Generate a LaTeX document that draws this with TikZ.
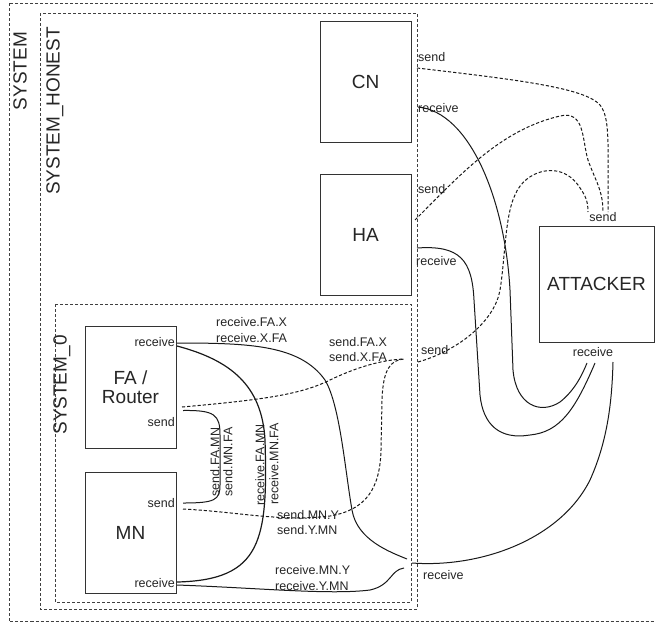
\documentclass[tikz,border=0pt]{standalone}
\usepackage{fontspec}
\setmainfont{Liberation Sans}
\begin{document}
\begin{tikzpicture}[x=1pt,y=-1pt,
  comp/.style={draw=black!80, line width=0.9pt, inner sep=0pt, align=center, text=black!85, font=\fontsize{19}{19.5}\selectfont},
  sysbox/.style={draw=black!75, line width=0.9pt, dash pattern=on 3pt off 2pt},
  biglbl/.style={font=\fontsize{19}{21}\selectfont, text=black!85, inner sep=0pt},
  lbl/.style={font=\fontsize{12.5}{14}\selectfont, text=black!85, inner sep=0pt},
  sig/.style={draw=black!90, line width=1pt},
  dsig/.style={sig, dash pattern=on 3.2pt off 2pt},
]
\useasboundingbox (0,0) rectangle (655,624);
\fill[white] (0,0) rectangle (655,624);

% containers
\draw[sysbox] (9,3) rectangle (665,621.5);
\draw[sysbox] (40,13) rectangle (417,609);
\draw[sysbox] (55,304) rectangle (411,602);
\node[biglbl, rotate=90] (lsys) at (20,71) {SYSTEM};
\node[biglbl, rotate=90] (lhon) at (55,111) {SYSTEM\_HONEST};
\node[biglbl, rotate=90] (lsys0) at (62,385) {SYSTEM\_0};

% components
\node[comp, minimum width=91pt, minimum height=121pt] (CN) at (365.5,82) {CN};
\node[comp, minimum width=91pt, minimum height=121pt] (HA) at (365.5,234.5) {HA};
\node[comp, minimum width=115pt, minimum height=116pt] (ATT) at (596.5,284) {ATTACKER};
\node[comp, minimum width=91pt, minimum height=122pt] (FA) at (130.5,387) {FA /\\Router};
\node[comp, minimum width=91pt, minimum height=121pt] (MN) at (130.5,532.5) {MN};

% ports and junctions
\coordinate (cnS) at (417,68);
\coordinate (cnR) at (418,107);
\coordinate (haS) at (415,220);
\coordinate (haR) at (417,248);
\coordinate (atS1) at (608,212);
\coordinate (atS2) at (603,212);
\coordinate (atS3) at (588,212);
\coordinate (atR1) at (587,363);
\coordinate (atR2) at (595,363);
\coordinate (atR3) at (613,362);
\coordinate (faR) at (177,343);
\coordinate (faR2) at (177,346);
\coordinate (faSd) at (182,407);
\coordinate (faSs) at (183,410.5);
\coordinate (mnSs) at (183,503);
\coordinate (mnSd) at (183,509);
\coordinate (mnR) at (177,585);
\coordinate (mnR2) at (177,582);
\coordinate (j0s) at (404,359);
\coordinate (jhs) at (418,362);
\coordinate (j0ra) at (407,559);
\coordinate (j0rb) at (404,568);
\coordinate (jhr) at (412,563);

% labels
\node[lbl, anchor=west] (lcnS) at (418,57) {send};
\node[lbl, anchor=west] (lcnR) at (418,108) {receive};
\node[lbl, anchor=west] (lhaS) at (418,189) {send};
\node[lbl, anchor=west] (lhaR) at (416,261) {receive};
\node[lbl] (latS) at (603,217) {send};
\node[lbl] (latR) at (593,352) {receive};
\node[lbl, anchor=east] (lfaR) at (175,342) {receive};
\node[lbl, anchor=east] (lfaS) at (175,422) {send};
\node[lbl, anchor=east] (lmnS) at (175,503) {send};
\node[lbl, anchor=east] (lmnR) at (175,583) {receive};
\node[lbl, anchor=west] (l1) at (216,322) {receive.FA.X};
\node[lbl, anchor=west] (l2) at (216,338) {receive.X.FA};
\node[lbl, anchor=west] (l3) at (329,342) {send.FA.X};
\node[lbl, anchor=west] (l4) at (329,357) {send.X.FA};
\node[lbl, anchor=west] (l5) at (421,350) {send};
\node[lbl, anchor=west] (l6) at (423,575) {receive};
\node[lbl, anchor=west] (l7) at (277,515) {send.MN.Y};
\node[lbl, anchor=west] (l8) at (277,530) {send.Y.MN};
\node[lbl, anchor=west] (l9) at (275,570) {receive.MN.Y};
\node[lbl, anchor=west] (l10) at (275,586) {receive.Y.MN};
\node[lbl, rotate=90] (l11) at (215,462) {send.FA.MN};
\node[lbl, rotate=90] (l12) at (228,462) {send.MN.FA};
\node[lbl, rotate=90] (l13) at (260,465) {receive.FA.MN};
\node[lbl, rotate=90] (l14) at (274,464) {receive.MN.FA};

% dashed (send) connectors
\draw[dsig] (cnS) .. controls (520,80) and (585,88) .. (600,105) .. controls (610,118) and (608,140) .. (atS1);
\draw[dsig] (haS) .. controls (460,175) and (500,130) .. (560,116) .. controls (585,110) and (582,140) .. (588,160) .. controls (595,180) and (603,190) .. (atS2);
\draw[dsig] (jhs) .. controls (460,350) and (495,320) .. (500,290) .. controls (505,260) and (505,215) .. (515,195) .. controls (525,170) and (560,160) .. (578,185) .. controls (585,195) and (588,200) .. (atS3);
\draw[dsig] (faSd) .. controls (260,400) and (300,395) .. (330,380) .. controls (355,368) and (380,360) .. (j0s);
\draw[dsig] (mnSd) .. controls (240,512) and (280,522) .. (330,516) .. controls (365,510) and (380,490) .. (381,450) -- (382,400) .. controls (383,370) and (390,360) .. (j0s);

% solid (receive) connectors
\draw[sig] (faR) .. controls (250,343) and (300,345) .. (325,380) .. controls (340,405) and (345,470) .. (352,510) .. controls (357,540) and (390,552) .. (j0ra);
\draw[sig, line width=1.2pt] (faR2) .. controls (230,360) and (262,385) .. (265,440) .. controls (268,540) and (262,580) .. (mnR2);
\draw[sig] (faSs) .. controls (215,410) and (220,415) .. (220,435) -- (220,485) .. controls (220,500) and (215,503) .. (mnSs);
\draw[sig] (mnR) .. controls (260,588) and (330,595) .. (370,590) .. controls (392,585) and (390,570) .. (j0rb);
\draw[sig] (jhr) .. controls (480,568) and (560,540) .. (590,480) .. controls (608,440) and (612,400) .. (atR3);
\draw[sig] (cnR) .. controls (470,112) and (505,200) .. (510,290) -- (513,370) .. controls (516,405) and (540,415) .. (560,402) .. controls (575,390) and (582,375) .. (atR1);
\draw[sig] (haR) .. controls (460,245) and (472,260) .. (474,300) -- (480,395) .. controls (483,425) and (500,440) .. (530,435) .. controls (560,432) and (575,410) .. (atR2);
\end{tikzpicture}
\end{document}
